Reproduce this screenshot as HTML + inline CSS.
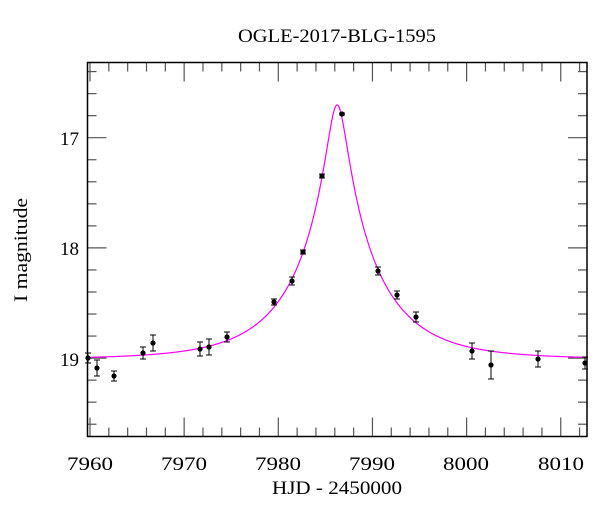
<!DOCTYPE html>
<html><head><style>
body{margin:0;background:#fff;}
svg text{font-family:"Liberation Serif",serif;fill:#000;}
</style></head><body>
<svg id="s" width="600" height="512" xmlns="http://www.w3.org/2000/svg">
<rect x="0" y="0" width="600" height="512" fill="#fff"/>
<g id="ticks" stroke="#555" stroke-width="1.2"></g>
<path id="curve" fill="none" stroke="#ff00ff" stroke-width="1.2"/>
<g id="pts"></g>
<rect x="87.5" y="62.5" width="499.5" height="374" fill="none" stroke="#000" stroke-width="1.5"/>
<text x="337" y="42" font-size="19" text-anchor="middle" textLength="198" lengthAdjust="spacingAndGlyphs">OGLE-2017-BLG-1595</text>
<text x="337" y="494" font-size="19" text-anchor="middle" textLength="130" lengthAdjust="spacingAndGlyphs">HJD - 2450000</text>
<text transform="translate(27,250) rotate(-90)" font-size="19" text-anchor="middle" textLength="104" lengthAdjust="spacingAndGlyphs">I magnitude</text>
<g font-size="19" text-anchor="middle">
<text x="90" y="470" textLength="46" lengthAdjust="spacingAndGlyphs">7960</text><text x="184" y="470" textLength="46" lengthAdjust="spacingAndGlyphs">7970</text><text x="278" y="470" textLength="46" lengthAdjust="spacingAndGlyphs">7980</text>
<text x="372" y="470" textLength="46" lengthAdjust="spacingAndGlyphs">7990</text><text x="466" y="470" textLength="46" lengthAdjust="spacingAndGlyphs">8000</text><text x="561" y="470" textLength="46" lengthAdjust="spacingAndGlyphs">8010</text>
</g>
<g font-size="19" text-anchor="end">
<text x="79" y="145">17</text><text x="79" y="255">18</text><text x="79" y="366">19</text>
</g>
</svg>
<script>
var X=function(t){return 90+(t-7960)*9.415;};
var Y=function(m){return 137.7+(m-17)*110.2;};
var tk=document.getElementById('ticks'),h='';
for(var t=7960;t<=8012;t+=2){var x=X(t),L=(t%10==0)?19:9;
h+='<line x1="'+x+'" y1="62.5" x2="'+x+'" y2="'+(62.5+L)+'"/><line x1="'+x+'" y1="436.5" x2="'+x+'" y2="'+(436.5-L)+'"/>';}
for(var i=0;i<=17;i++){var m=16.4+i*0.2,y=Y(m);if(y>436)break;var L=(Math.abs(m-Math.round(m))<0.01)?19:9;
h+='<line x1="87.5" y1="'+y+'" x2="'+(87.5+L)+'" y2="'+y+'"/><line x1="587" y1="'+y+'" x2="'+(587-L)+'" y2="'+y+'"/>';}
tk.innerHTML=h;
var t0=7986.25,tE=8.6,u0=0.12,d='';
for(var x=88;x<=587;x+=0.5){var t=7960+(x-90)/9.415,tau=(t-t0)/tE,u=Math.sqrt(u0*u0+tau*tau);
var A=(u*u+2)/(u*Math.sqrt(u*u+4));var m=19.01-2.5*Math.log10(A);d+=(d?'L':'M')+x.toFixed(1)+','+Y(m).toFixed(1);}
document.getElementById('curve').setAttribute('d',d);
var P=[[88,358,5],[97,368,8],[114,376,5],[143,353,6],[153,343,8],[200,349,7],[209,347,8],[227,337,5],[274,302,3],[292,281,4],[303,252,2],[322,176,2],[342,114,1],[378,271,4],[397,295,4],[416,317,5],[472,351,8],[491,365,14],[538,359,8],[585,363,6]];
var g='';P.forEach(function(p){var x=p[0],y=p[1],e=p[2];
g+='<g stroke="#000" stroke-width="1"><line x1="'+x+'" y1="'+(y-e)+'" x2="'+x+'" y2="'+(y+e)+'"/><line x1="'+(x-3)+'" y1="'+(y-e)+'" x2="'+(x+3)+'" y2="'+(y-e)+'"/><line x1="'+(x-3)+'" y1="'+(y+e)+'" x2="'+(x+3)+'" y2="'+(y+e)+'"/></g><circle cx="'+x+'" cy="'+y+'" r="2.6" fill="#000"/>';});
document.getElementById('pts').innerHTML=g;
</script>
</body></html>
